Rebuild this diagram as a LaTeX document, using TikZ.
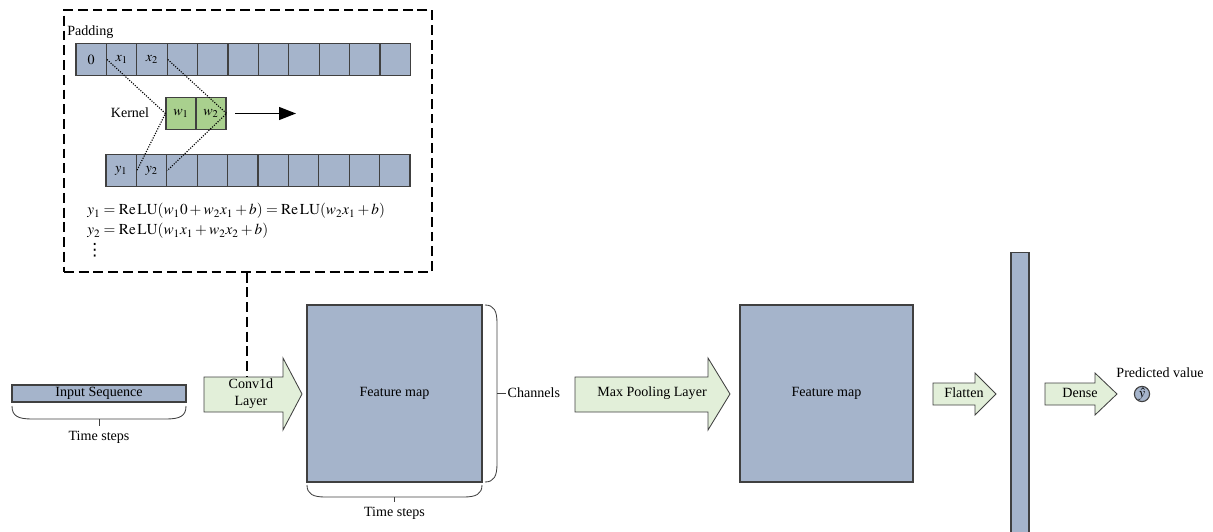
\documentclass[tikz,border=0pt]{standalone}
\usepackage{mathptmx}
\usepackage{fontspec}
\setmainfont{Liberation Serif}
\newfontfamily\dotsfont{DejaVu Sans}
\usetikzlibrary{arrows.meta}
\definecolor{mapblue}{RGB}{165,180,203}
\definecolor{layergreen}{RGB}{226,239,217}
\definecolor{kergreen}{RGB}{169,208,142}
\definecolor{edgegray}{RGB}{64,64,64}
\tikzset{
	cell/.style={draw=edgegray,fill=mapblue,line width=0.8pt,minimum width=0.76cm,minimum height=0.78cm,inner sep=0pt},
	kcell/.style={cell,fill=kergreen,minimum width=0.75cm},
	fmap/.style={draw=edgegray,fill=mapblue,line width=0.8pt,inner sep=0pt},
	layer/.style={draw=edgegray,fill=layergreen,line width=0.6pt},
	bracket/.style={draw=edgegray,line width=0.6pt},
	eqline/.style={anchor=west,inner sep=0pt,font=\fontsize{10.8}{13}\selectfont},
}
\begin{document}
\begin{tikzpicture}[x=0.025cm,y=-0.025cm,font=\fontsize{10}{12}\selectfont]
	\clip (0,0) rectangle (1213,532);
	% zoomed view of the convolution
	\node[draw,line width=0.9pt,dash pattern=on 7pt off 3.5pt,minimum width=9.2cm,minimum height=6.55cm] (zoombox) at (248,141) {};
	\node[anchor=west,inner sep=0pt] (padlbl) at (67,32) {Padding};
	\foreach \i/\lbl in {1/0,2/x_1,3/x_2}
		\node[cell] (top\i) at ({76+30.4*(\i-0.5)},59.5) {$\lbl$};
	\foreach \i in {4,...,11}
		\node[cell] (top\i) at ({76+30.4*(\i-0.5)},59.5) {};
	\foreach \i/\lbl in {1/y_1,2/y_2}
		\node[cell] (bot\i) at ({106+30.4*(\i-0.5)},170.5) {$\lbl$};
	\foreach \i in {3,...,10}
		\node[cell] (bot\i) at ({106+30.4*(\i-0.5)},170.5) {};
	\node[kcell] (ker1) at (181,113.5) {$w_1$};
	\node[kcell] (ker2) at (211,113.5) {$w_2$};
	\node (kerlbl) at (130,113) {Kernel};
	\coordinate (kend) at (296,113.5);
	\draw[-{Triangle[length=0.42cm,width=0.32cm]},line width=1pt] ([xshift=0.22cm]ker2.east) -- (kend);
	\draw[densely dotted,line width=0.8pt] (top1.east) -- (ker1.west) -- (bot1.east);
	\draw[densely dotted,line width=0.8pt] (top3.east) -- (ker2.east) -- (bot2.east);
	\node[eqline] (eq1) at (87,211) {$y_1 = \mathrm{Re\,LU}(w_1 0 + w_2 x_1 + b) = \mathrm{Re\,LU}(w_2 x_1 + b)$};
	\node[eqline] (eq2) at (87,231) {$y_2 = \mathrm{Re\,LU}(w_1 x_1 + w_2 x_2 + b)$};
	\node[eqline] (eqdots) at (86,250) {\dotsfont\fontsize{12}{12}\selectfont ⋮};
	% network
	\node[fmap,minimum width=4.35cm,minimum height=0.425cm] (input) at (99,393.5) {Input Sequence};
	\draw[bracket] (12,406) .. controls (12,416) and (18,419) .. (32,419) -- (166,419) .. controls (180,419) and (186,416) .. (186,406);
	\node (steps1) at (99,437) {Time steps};
	\draw[bracket] (99,419) -- (steps1.north);
	\draw[layer] (204,377) -- (283,377) -- (283,358) -- (302,394) -- (283,430) -- (283,412) -- (204,412) -- cycle;
	\node[align=center,inner sep=0pt] (conv) at (251,394) {Conv1d\\Layer};
	\coordinate (convtop) at (247,377);
	\draw[line width=0.9pt,dash pattern=on 7pt off 3.5pt] (zoombox.south -| convtop) -- (convtop);
	\node[fmap,minimum width=4.375cm,minimum height=4.425cm] (fmap1) at (394.5,393.5) {Feature map};
	\draw[bracket] (307,485) .. controls (307,494) and (313,497) .. (325,497) -- (464,497) .. controls (476,497) and (482,494) .. (482,485);
	\node (steps2) at (394.5,513) {Time steps};
	\draw[bracket] (394.5,497) -- (steps2.north);
	\draw[bracket] (485,305) .. controls (494,305) and (497,311) .. (497,323) -- (497,464) .. controls (497,476) and (494,482) .. (485,482);
	\node[anchor=west,inner sep=1pt] (chan) at (506,393) {Channels};
	\draw[bracket] (497,393) -- (chan.west);
	\draw[layer] (575,377) -- (708,377) -- (708,358) -- (730,394) -- (708,430) -- (708,412) -- (575,412) -- cycle;
	\node (pool) at (652,393) {Max Pooling Layer};
	\node[fmap,minimum width=4.325cm,minimum height=4.425cm] (fmap2) at (826.5,393.5) {Feature map};
	\draw[layer] (933,383) -- (975,383) -- (975,373) -- (996,394) -- (975,415) -- (975,405) -- (933,405) -- cycle;
	\node (flatten) at (964,393) {Flatten};
	\node[fmap,minimum width=0.45cm,minimum height=7.5cm,anchor=north] (flat) at (1020,252) {};
	\draw[layer] (1045,383) -- (1095,383) -- (1095,373) -- (1117,394) -- (1095,415) -- (1095,405) -- (1045,405) -- cycle;
	\node (dense) at (1080,393) {Dense};
	\node[circle,draw=edgegray,fill=mapblue,line width=0.8pt,minimum size=0.38cm,inner sep=0pt] (yhat) at (1142,394) {$\hat{y}$};
	\node (pred) at (1160,373) {Predicted value};
\end{tikzpicture}
\end{document}
